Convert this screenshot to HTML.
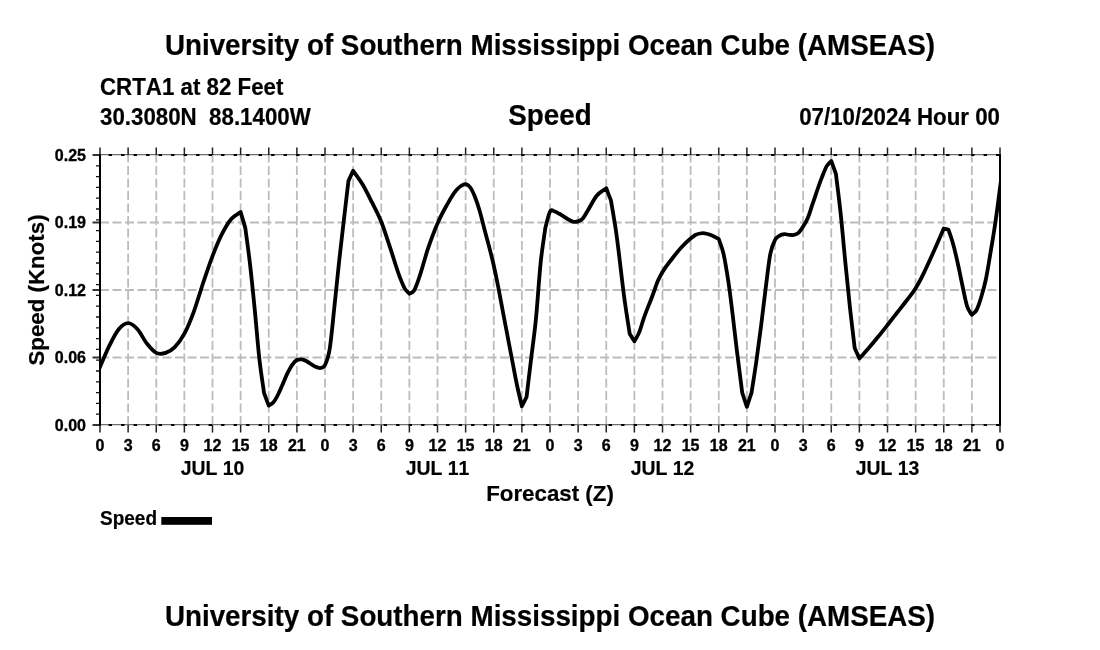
<!DOCTYPE html>
<html><head><meta charset="utf-8"><title>Speed</title>
<style>
html,body{margin:0;padding:0;background:#fff;}
body{width:1100px;height:650px;overflow:hidden;}
svg{display:block;}
text{font-kerning:none;font-family:"Liberation Sans",sans-serif;font-weight:bold;fill:#000;stroke:#000;stroke-width:0.2px;stroke-linejoin:round;}
.t1{font-size:27.8px;}
.t2{font-size:22.3px;}
.tk{font-size:16px;stroke-width:0.35px;}
.dy{font-size:19.4px;}
.lg{font-size:19px;}
</style></head><body>
<svg width="1100" height="650" viewBox="0 0 1100 650">
<rect width="1100" height="650" fill="#fff"/>

<text class="t1" transform="translate(550,55) scale(1,1.06)" text-anchor="middle">University of Southern Mississippi Ocean Cube (AMSEAS)</text>
<text class="t1" transform="translate(550,625.5) scale(1,1.06)" text-anchor="middle">University of Southern Mississippi Ocean Cube (AMSEAS)</text>
<text class="t2" transform="translate(100,95) scale(1,1.04)" text-anchor="start">CRTA1 at 82 Feet</text>
<text class="t2" transform="translate(100,125) scale(1,1.04)" text-anchor="start" style="white-space:pre">30.3080N  88.1400W</text>
<text class="t1" transform="translate(550,125) scale(1,1.06)" text-anchor="middle">Speed</text>
<text class="t2" transform="translate(1000,125.3) scale(1,1.04)" text-anchor="end">07/10/2024 Hour 00</text>
<text class="t2" transform="translate(43.5,290) rotate(-90)" text-anchor="middle">Speed (Knots)</text>
<text class="t2" transform="translate(550,500.5)" text-anchor="middle">Forecast (Z)</text>
<text class="lg" transform="translate(100,524.6) scale(1,1.04)" text-anchor="start">Speed</text>
<rect x="161.3" y="517" width="50.7" height="7.8" fill="#000"/>
<path d="M128.125 425V155M156.250 425V155M184.375 425V155M212.500 425V155M240.625 425V155M268.750 425V155M296.875 425V155M325.000 425V155M353.125 425V155M381.250 425V155M409.375 425V155M437.500 425V155M465.625 425V155M493.750 425V155M521.875 425V155M550.000 425V155M578.125 425V155M606.250 425V155M634.375 425V155M662.500 425V155M690.625 425V155M718.750 425V155M746.875 425V155M775.000 425V155M803.125 425V155M831.250 425V155M859.375 425V155M887.500 425V155M915.625 425V155M943.750 425V155M971.875 425V155M100 357.5H1000M100 290.0H1000M100 222.5H1000" stroke="#bcbcbc" stroke-width="1.8" stroke-dasharray="9 3.5" fill="none"/>
<path d="M100 154.6H1000M100 424.6H1000" stroke="#6e6e6e" stroke-width="1.1" fill="none"/>
<path d="M100 155H1000M100 425H1000" stroke="#000" stroke-width="2" stroke-dasharray="3.4 9.1" stroke-dashoffset="-8.6" fill="none"/>
<path d="M100.000 155v-7.5M100.000 425v7.5M128.125 155v-7.5M128.125 425v7.5M156.250 155v-7.5M156.250 425v7.5M184.375 155v-7.5M184.375 425v7.5M212.500 155v-7.5M212.500 425v7.5M240.625 155v-7.5M240.625 425v7.5M268.750 155v-7.5M268.750 425v7.5M296.875 155v-7.5M296.875 425v7.5M325.000 155v-7.5M325.000 425v7.5M353.125 155v-7.5M353.125 425v7.5M381.250 155v-7.5M381.250 425v7.5M409.375 155v-7.5M409.375 425v7.5M437.500 155v-7.5M437.500 425v7.5M465.625 155v-7.5M465.625 425v7.5M493.750 155v-7.5M493.750 425v7.5M521.875 155v-7.5M521.875 425v7.5M550.000 155v-7.5M550.000 425v7.5M578.125 155v-7.5M578.125 425v7.5M606.250 155v-7.5M606.250 425v7.5M634.375 155v-7.5M634.375 425v7.5M662.500 155v-7.5M662.500 425v7.5M690.625 155v-7.5M690.625 425v7.5M718.750 155v-7.5M718.750 425v7.5M746.875 155v-7.5M746.875 425v7.5M775.000 155v-7.5M775.000 425v7.5M803.125 155v-7.5M803.125 425v7.5M831.250 155v-7.5M831.250 425v7.5M859.375 155v-7.5M859.375 425v7.5M887.500 155v-7.5M887.500 425v7.5M915.625 155v-7.5M915.625 425v7.5M943.750 155v-7.5M943.750 425v7.5M971.875 155v-7.5M971.875 425v7.5M1000.000 155v-7.5M1000.000 425v7.5" stroke="#222" stroke-width="1.5" fill="none"/>
<path d="M100 425.00h-4M100 414.20h-4M100 403.40h-4M100 392.60h-4M100 381.80h-4M100 371.00h-4M100 360.20h-4M100 349.40h-4M100 338.60h-4M100 327.80h-4M100 317.00h-4M100 306.20h-4M100 295.40h-4M100 284.60h-4M100 273.80h-4M100 263.00h-4M100 252.20h-4M100 241.40h-4M100 230.60h-4M100 219.80h-4M100 209.00h-4M100 198.20h-4M100 187.40h-4M100 176.60h-4M100 165.80h-4M100 155.00h-4" stroke="#111" stroke-width="1.3" fill="none"/>
<path d="M100 425.00h-7.5M100 357.50h-7.5M100 290.00h-7.5M100 222.50h-7.5M100 155.00h-7.5" stroke="#333" stroke-width="1.8" fill="none"/>
<path d="M100 154.2V425.8M1000 154.2V425.8" stroke="#000" stroke-width="2" fill="none"/>
<text class="tk" x="86" y="430.9" text-anchor="end">0.00</text>
<text class="tk" x="86" y="363.4" text-anchor="end">0.06</text>
<text class="tk" x="86" y="295.9" text-anchor="end">0.12</text>
<text class="tk" x="86" y="228.4" text-anchor="end">0.19</text>
<text class="tk" x="86" y="160.9" text-anchor="end">0.25</text>
<text class="tk" x="100.00" y="451" text-anchor="middle">0</text>
<text class="tk" x="128.12" y="451" text-anchor="middle">3</text>
<text class="tk" x="156.25" y="451" text-anchor="middle">6</text>
<text class="tk" x="184.38" y="451" text-anchor="middle">9</text>
<text class="tk" x="212.50" y="451" text-anchor="middle">12</text>
<text class="tk" x="240.62" y="451" text-anchor="middle">15</text>
<text class="tk" x="268.75" y="451" text-anchor="middle">18</text>
<text class="tk" x="296.88" y="451" text-anchor="middle">21</text>
<text class="tk" x="325.00" y="451" text-anchor="middle">0</text>
<text class="tk" x="353.12" y="451" text-anchor="middle">3</text>
<text class="tk" x="381.25" y="451" text-anchor="middle">6</text>
<text class="tk" x="409.38" y="451" text-anchor="middle">9</text>
<text class="tk" x="437.50" y="451" text-anchor="middle">12</text>
<text class="tk" x="465.62" y="451" text-anchor="middle">15</text>
<text class="tk" x="493.75" y="451" text-anchor="middle">18</text>
<text class="tk" x="521.88" y="451" text-anchor="middle">21</text>
<text class="tk" x="550.00" y="451" text-anchor="middle">0</text>
<text class="tk" x="578.12" y="451" text-anchor="middle">3</text>
<text class="tk" x="606.25" y="451" text-anchor="middle">6</text>
<text class="tk" x="634.38" y="451" text-anchor="middle">9</text>
<text class="tk" x="662.50" y="451" text-anchor="middle">12</text>
<text class="tk" x="690.62" y="451" text-anchor="middle">15</text>
<text class="tk" x="718.75" y="451" text-anchor="middle">18</text>
<text class="tk" x="746.88" y="451" text-anchor="middle">21</text>
<text class="tk" x="775.00" y="451" text-anchor="middle">0</text>
<text class="tk" x="803.12" y="451" text-anchor="middle">3</text>
<text class="tk" x="831.25" y="451" text-anchor="middle">6</text>
<text class="tk" x="859.38" y="451" text-anchor="middle">9</text>
<text class="tk" x="887.50" y="451" text-anchor="middle">12</text>
<text class="tk" x="915.62" y="451" text-anchor="middle">15</text>
<text class="tk" x="943.75" y="451" text-anchor="middle">18</text>
<text class="tk" x="971.88" y="451" text-anchor="middle">21</text>
<text class="tk" x="1000.00" y="451" text-anchor="middle">0</text>
<text class="dy" x="212.50" y="474.6" text-anchor="middle">JUL 10</text>
<text class="dy" x="437.50" y="474.6" text-anchor="middle">JUL 11</text>
<text class="dy" x="662.50" y="474.6" text-anchor="middle">JUL 12</text>
<text class="dy" x="887.50" y="474.6" text-anchor="middle">JUL 13</text>
<clipPath id="pc"><rect x="100" y="155" width="900" height="270"/></clipPath>
<path clip-path="url(#pc)" d="M96.25 375.52C97.50 372.68 98.75 369.84 100.00 367.00C103.12 359.90 106.25 351.98 109.38 345.70C112.50 339.42 115.62 333.05 118.75 329.30C121.88 325.55 125.00 323.20 128.12 323.20C131.25 323.20 134.38 325.92 137.50 329.30C140.62 332.68 143.75 339.57 146.88 343.50C150.00 347.43 153.12 351.33 156.25 352.90C159.38 354.47 162.50 353.92 165.62 352.90C168.75 351.88 171.88 350.00 175.00 346.80C178.12 343.60 181.25 339.53 184.38 333.70C187.50 327.87 190.62 320.25 193.75 311.80C196.88 303.35 200.00 292.28 203.12 283.00C206.25 273.72 209.38 264.23 212.50 256.10C215.62 247.97 218.75 240.38 221.88 234.20C225.00 228.02 228.12 222.70 231.25 219.00C234.38 215.30 237.50 214.33 240.62 212.00C242.19 217.33 243.75 222.67 245.31 228.00C246.88 240.00 248.44 250.50 250.00 264.00C251.56 277.50 253.12 293.17 254.69 309.00C256.25 324.83 257.81 345.00 259.38 359.00C260.94 373.00 262.50 381.67 264.06 393.00C265.62 397.20 267.19 401.40 268.75 405.60C270.31 404.50 271.88 404.15 273.44 402.30C275.00 400.45 276.56 397.55 278.12 394.50C279.69 391.45 281.25 387.55 282.81 384.00C284.38 380.45 285.94 376.40 287.50 373.20C289.06 370.00 290.62 367.00 292.19 364.80C293.75 362.60 295.31 360.90 296.88 360.00C298.44 359.10 300.00 359.23 301.56 359.40C303.12 359.57 304.69 360.23 306.25 361.00C307.81 361.77 309.38 363.03 310.94 364.00C312.50 364.97 314.06 366.13 315.62 366.80C317.19 367.47 318.75 368.30 320.31 368.00C321.88 367.70 323.44 368.17 325.00 365.00C326.56 361.83 328.12 358.67 329.69 349.00C331.25 339.33 332.81 321.50 334.38 307.00C335.94 292.50 337.50 276.33 339.06 262.00C340.62 247.67 342.19 234.50 343.75 221.00C345.31 207.50 346.88 194.33 348.44 181.00C350.00 177.60 351.56 174.20 353.12 170.80C356.25 175.30 359.38 179.07 362.50 184.30C365.62 189.53 368.75 195.95 371.88 202.20C375.00 208.45 378.12 213.97 381.25 221.80C384.38 229.63 387.50 239.90 390.62 249.20C393.75 258.50 396.88 269.64 400.00 277.60C401.56 281.58 403.12 285.70 404.69 288.40C406.25 291.10 407.81 292.00 409.38 293.80C410.94 292.70 412.50 292.98 414.06 290.50C415.62 288.02 417.19 283.18 418.75 278.90C421.88 270.33 425.00 257.45 428.12 248.20C431.25 238.95 434.38 230.60 437.50 223.40C440.62 216.20 443.75 210.52 446.88 205.00C450.00 199.48 453.12 193.84 456.25 190.30C457.81 188.53 459.38 187.02 460.94 186.00C462.50 184.98 464.06 183.95 465.62 184.20C467.19 184.45 468.75 185.37 470.31 187.50C471.88 189.63 473.44 193.08 475.00 197.00C476.56 200.92 478.12 205.67 479.69 211.00C481.25 216.33 482.81 222.97 484.38 229.00C487.50 241.06 490.62 251.44 493.75 265.50C495.31 272.53 496.88 280.08 498.44 288.00C500.00 295.92 501.56 304.72 503.12 313.00C506.25 329.56 509.38 345.89 512.50 362.00C514.06 370.06 515.62 378.63 517.19 386.00C518.75 393.37 520.31 399.47 521.88 406.20C523.44 403.13 525.00 400.07 526.56 397.00C528.12 383.90 529.69 370.70 531.25 357.70C532.81 344.70 534.38 334.78 535.94 319.00C537.50 303.22 539.06 278.17 540.62 263.00C542.19 247.83 543.75 239.67 545.31 228.00C546.88 222.53 548.44 214.35 550.00 211.60C551.56 208.85 553.12 211.13 554.69 211.50C556.25 211.87 557.81 212.97 559.38 213.80C562.50 215.47 565.62 217.98 568.75 219.60C570.31 220.41 571.88 221.50 573.44 221.80C575.00 222.10 576.56 221.95 578.12 221.40C579.69 220.85 581.25 220.23 582.81 218.50C584.38 216.77 585.94 213.53 587.50 211.00C590.62 205.94 593.75 199.30 596.88 195.50C600.00 191.70 603.12 190.63 606.25 188.20C607.81 192.27 609.38 196.33 610.94 200.40C612.50 209.77 614.06 218.12 615.62 228.50C618.75 249.27 621.88 281.08 625.00 303.00C626.56 313.96 628.12 323.47 629.69 333.70C631.25 336.23 632.81 338.77 634.38 341.30C635.94 338.40 637.50 336.42 639.06 332.60C640.62 328.78 642.19 322.91 643.75 318.40C646.88 309.38 650.00 302.49 653.12 294.00C654.69 289.76 656.25 284.67 657.81 281.00C659.38 277.33 660.94 274.72 662.50 272.00C665.62 266.56 668.75 263.08 671.88 259.00C675.00 254.92 678.12 250.92 681.25 247.50C684.38 244.08 687.50 241.06 690.62 238.50C692.19 237.22 693.75 235.83 695.31 235.00C696.88 234.17 698.44 233.78 700.00 233.50C701.56 233.22 703.12 233.13 704.69 233.30C706.25 233.47 707.81 233.97 709.38 234.50C710.94 235.03 712.50 235.75 714.06 236.50C715.62 237.25 717.19 238.17 718.75 239.00C720.31 243.83 721.88 246.67 723.44 253.50C725.00 260.33 726.56 269.92 728.12 280.00C731.25 300.17 734.38 330.62 737.50 355.50C739.06 367.94 740.62 380.23 742.19 392.60C743.75 397.33 745.31 402.07 746.88 406.80C748.44 402.07 750.00 397.33 751.56 392.60C753.12 382.40 754.69 372.93 756.25 362.00C757.81 351.07 759.38 339.20 760.94 327.00C762.50 314.80 764.06 300.98 765.62 288.80C767.19 276.62 768.75 262.03 770.31 253.90C771.88 245.77 773.44 243.05 775.00 240.00C776.56 236.95 778.12 236.57 779.69 235.60C781.25 234.63 782.81 234.33 784.38 234.20C785.94 234.07 787.50 234.68 789.06 234.80C790.62 234.92 792.19 235.23 793.75 234.90C795.31 234.57 796.88 234.20 798.44 232.80C800.00 231.40 801.56 228.97 803.12 226.50C804.69 224.03 806.25 221.72 807.81 218.00C809.38 214.28 810.94 208.76 812.50 204.20C815.62 195.09 818.75 185.27 821.88 177.40C823.44 173.47 825.00 169.15 826.56 166.40C828.12 163.65 829.69 162.73 831.25 160.90C832.81 165.27 834.38 169.63 835.94 174.00C837.50 187.10 839.06 198.63 840.62 213.30C842.19 227.97 843.75 246.22 845.31 262.00C846.88 277.78 848.44 293.67 850.00 308.00C851.56 322.33 853.12 334.67 854.69 348.00C856.25 351.50 857.81 355.00 859.38 358.50C862.50 355.00 865.62 351.62 868.75 348.00C871.88 344.38 875.00 340.63 878.12 336.80C881.25 332.97 884.38 328.97 887.50 325.00C890.62 321.03 893.75 317.00 896.88 313.00C900.00 309.00 903.12 305.12 906.25 301.00C909.38 296.88 912.50 293.40 915.62 288.30C917.19 285.75 918.75 282.97 920.31 280.00C921.88 277.03 923.44 273.75 925.00 270.50C928.12 264.00 931.25 257.00 934.38 250.00C937.50 243.00 940.62 235.67 943.75 228.50C945.31 228.87 946.88 229.23 948.44 229.60C950.00 234.40 951.56 238.35 953.12 244.00C954.69 249.65 956.25 256.50 957.81 263.50C959.38 270.50 960.94 278.83 962.50 286.00C964.06 293.17 965.62 301.70 967.19 306.50C968.75 311.30 970.31 312.03 971.88 314.80C973.44 313.20 975.00 312.97 976.56 310.00C978.12 307.03 979.69 302.17 981.25 297.00C982.81 291.83 984.38 286.50 985.94 279.00C987.50 271.50 989.06 261.33 990.62 252.00C992.19 242.67 993.75 233.67 995.31 223.00C996.88 212.33 998.44 199.67 1000.00 188.00C1001.25 178.67 1002.50 169.33 1003.75 160.00" stroke="#000" stroke-width="3.8" stroke-linejoin="round" stroke-linecap="butt" fill="none"/>
</svg></body></html>
